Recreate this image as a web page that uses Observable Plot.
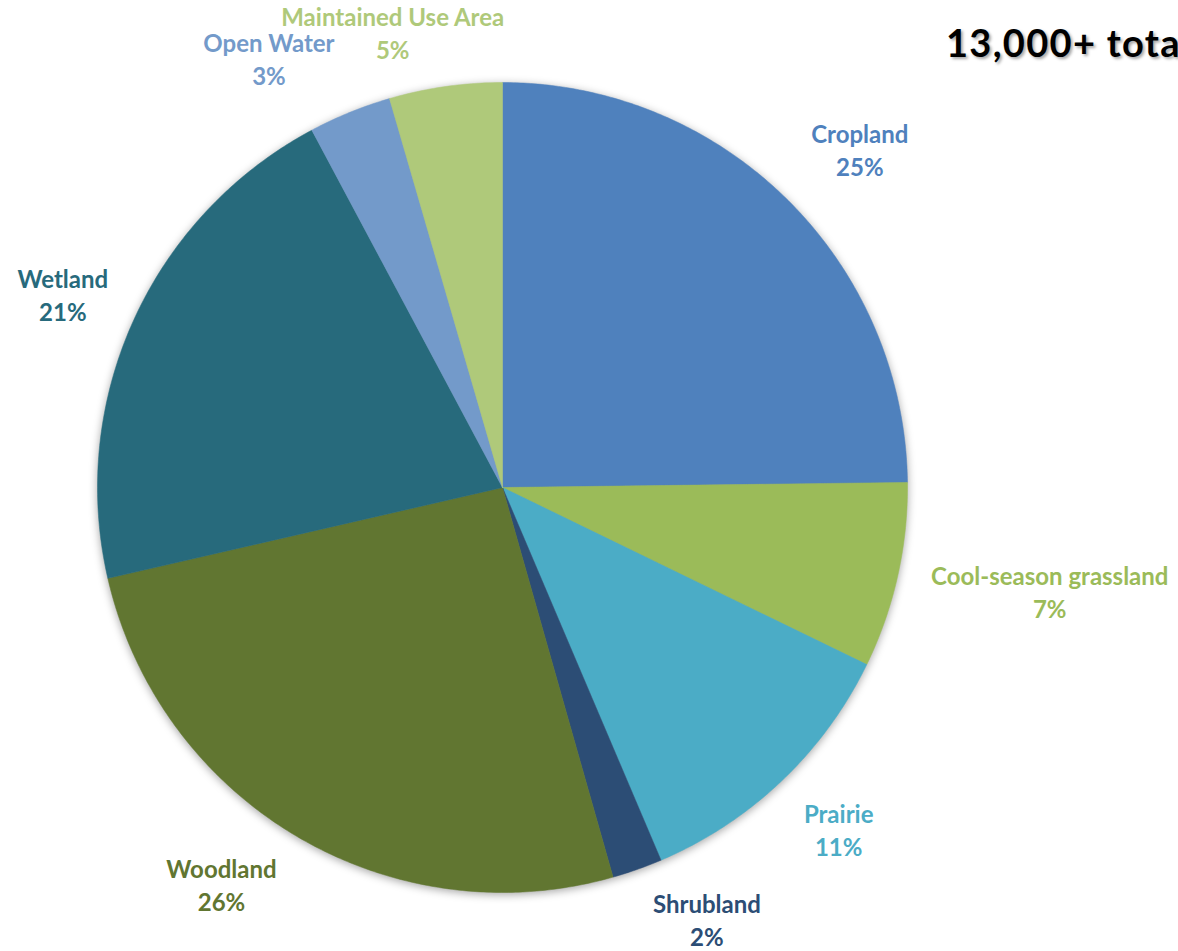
<!DOCTYPE html>
<html>
<head>
<meta charset="utf-8">
<script src="https://cdn.jsdelivr.net/npm/d3@7"></script>
<script src="https://cdn.jsdelivr.net/npm/@observablehq/plot@0.6"></script>
<style>
  html, body { margin: 0; padding: 0; background: #fff; overflow: hidden; }
  #wrap { position: relative; width: 1178px; height: 951px; overflow: hidden; }
  #title { position: absolute; left: 946px; top: 23px; white-space: nowrap;
           font-family: Lato, "Open Sans", sans-serif; font-weight: 700; font-size: 38px; line-height: 1;
           letter-spacing: 1.3px; color: #000; text-shadow: 2px 2px 3px rgba(0,0,0,0.35); }
</style>
</head>
<body>
<div id="wrap">
  <div id="chart"></div>
  <div id="title">13,000+ total acres</div>
</div>
<script>
// ---- data ----
const categories = ["Cropland", "Cool-season grassland", "Prairie", "Shrubland", "Woodland", "Wetland", "Open Water", "Maintained Use Area"];
const shares = [24.8, 7.4, 11.4, 2.0, 25.8, 20.8, 3.3, 4.5];
const percentLabels = ["25%", "7%", "11%", "2%", "26%", "21%", "3%", "5%"];
const colors = ["#4F81BD", "#9BBB59", "#4BACC6", "#2C4D75", "#617631", "#276A7C", "#739ACA", "#AFC97A"];
// label nudges (px) applied to the automatic outside-end placement
const labelNudges = [[14, -2], [2, 0], [9, -1], [40, -15], [-29, -11], [2, 2], [-43, 9], [-32, 13]];

// ---- layout ----
const W = 1178, H = 951;
const CX = 502, CY = 487, R = 405;
const fontSize = 24, lineGap = 33, gap = 35;

const arcs = d3.pie().sort(null).startAngle(0).endAngle(2 * Math.PI)(shares);

// slice polygons in units of radius (y up)
const slicePts = [];
arcs.forEach((a, i) => {
  const name = categories[i];
  slicePts.push({name, x: 0, y: 0});
  const n = Math.max(2, Math.ceil((a.endAngle - a.startAngle) / (Math.PI / 360)));
  for (let k = 0; k <= n; k++) {
    const t = a.startAngle + (a.endAngle - a.startAngle) * k / n;
    slicePts.push({name, x: Math.sin(t), y: Math.cos(t)});
  }
  slicePts.push({name, x: 0, y: 0});
});

// label placement
const ctx = document.createElement("canvas").getContext("2d");
ctx.font = `bold ${fontSize}px Lato`;
const labels = arcs.map((a, i) => {
  const mid = (a.startAngle + a.endAngle) / 2;
  const w = Math.max(ctx.measureText(categories[i]).width, ctx.measureText(percentLabels[i]).width);
  const hw = w / 2, hh = lineGap;
  const D = R + gap;
  const px = Math.sin(mid) * (D + hw) + labelNudges[i][0];
  const py = Math.cos(mid) * (D + hh) - labelNudges[i][1];
  return {name: categories[i], text: categories[i] + "\n" + percentLabels[i], x: px / R, y: py / R};
});

const chart = Plot.plot({
  width: W, height: H,
  margin: 0,
  x: {domain: [-CX / R, (W - CX) / R], range: [0, W], axis: null},
  y: {domain: [-(H - CY) / R, CY / R], range: [H, 0], axis: null},
  color: {domain: categories, range: colors},
  style: {background: "transparent"},
  marks: [
    Plot.line(slicePts, {x: "x", y: "y", z: "name", fill: "name", stroke: "name", strokeWidth: 0.5, curve: "linear"}),
    Plot.text(labels, {x: "x", y: "y", text: "text", fill: "name", fontSize: fontSize, fontWeight: "bold",
      fontFamily: "Lato, 'Open Sans', sans-serif", lineHeight: lineGap / fontSize, textAnchor: "middle", lineAnchor: "middle"})
  ]
});
const lineG = chart.querySelector('g[aria-label="line"]');
if (lineG) lineG.style.filter = "drop-shadow(0px 2px 4px rgba(0,0,0,0.35))";
document.getElementById("chart").appendChild(chart);
</script>
</body>
</html>
